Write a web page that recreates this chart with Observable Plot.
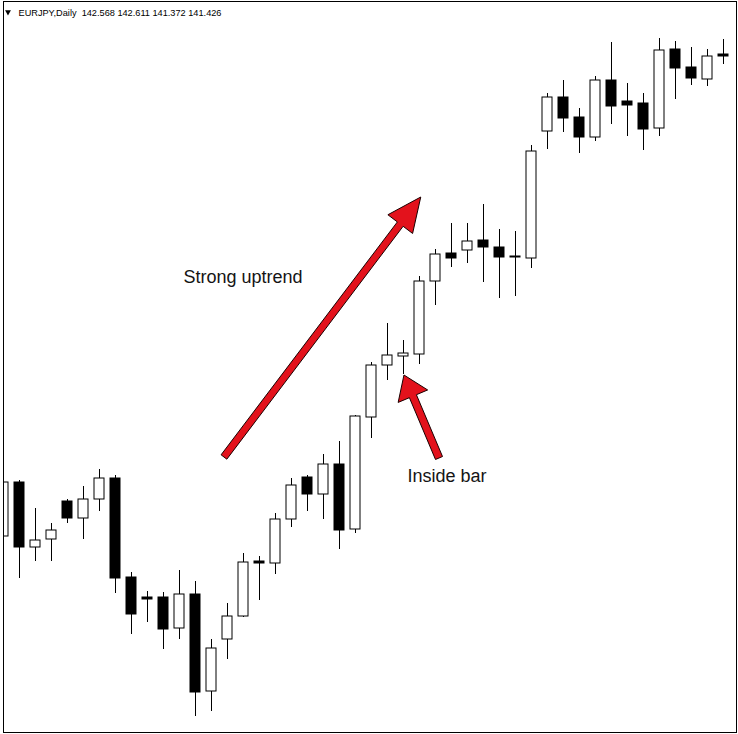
<!DOCTYPE html>
<html>
<head>
<meta charset="utf-8">
<script src="https://cdn.jsdelivr.net/npm/d3@7"></script>
<script src="https://cdn.jsdelivr.net/npm/@observablehq/plot@0.6"></script>
<style>
  html, body { margin: 0; padding: 0; background: #fff; }
  #chart { width: 738px; height: 734px; }
  #chart svg { display: block; }
</style>
</head>
<body>
<div id="chart"></div>
<script>
// ---- data ----
const symbol = "EURJPY,Daily";
const quote = ["142.568", "142.611", "141.372", "141.426"];

const opens  = [138.04,138.58,137.93,138.01,138.39,138.22,138.41,138.62,137.63,137.43,
                137.43,137.12,137.46,136.49,137.01,137.24,137.79,137.77,138.21,138.63,
                138.46,138.76,138.11,139.23,139.75,139.84,139.86,140.59,140.87,140.90,
                141.00,140.93,140.84,140.82,142.09,142.43,142.23,142.03,142.60,142.39,
                142.37,142.12,142.91,142.73,142.61,142.86];
const highs  = [138.74,138.60,138.32,138.17,138.41,138.54,138.71,138.65,137.68,137.49,
                137.48,137.70,137.59,137.01,137.37,137.87,137.84,138.27,138.62,138.65,
                138.86,138.99,139.25,139.78,140.17,140.00,140.64,140.91,141.17,141.17,
                141.36,141.11,141.09,141.95,142.47,142.60,142.32,142.64,142.98,142.57,
                142.47,143.02,142.99,142.93,142.91,143.01];
const lows   = [137.97,137.62,137.79,137.79,138.17,138.01,138.29,137.47,137.06,137.18,
                136.91,137.01,136.24,136.29,136.81,137.23,137.40,137.66,138.13,138.29,
                138.21,137.91,138.07,139.02,139.60,139.66,139.76,140.35,140.73,140.77,
                140.58,140.42,140.44,140.72,141.91,142.08,141.87,141.99,142.16,142.04,
                141.90,142.04,142.41,142.55,142.54,142.76];
const closes = [138.58,137.93,138.00,138.10,138.22,138.41,138.62,137.62,137.26,137.41,
                137.11,137.46,136.48,136.92,137.24,137.78,137.77,138.21,138.55,138.46,
                138.76,138.10,139.24,139.75,139.85,139.87,140.59,140.86,140.82,140.99,
                140.93,140.83,140.83,141.89,142.43,142.22,142.03,142.60,142.34,142.35,
                142.11,142.90,142.72,142.62,142.84,142.84];

// annotation anchors (bar index, price)
const labelTexts  = ["Strong uptrend", "Inside bar"];
const labelBars   = [11.25, 25.25];
const labelPrices = [140.573, 138.583];

const arrowFromBars   = [13.81, 27.25];
const arrowFromPrices = [138.83, 138.82];
const arrowToBars     = [26.11, 25.06];
const arrowToPrices   = [141.43, 139.65];

// ---- build tables ----
const candles = opens.map((o, i) => ({i, open: o, high: highs[i], low: lows[i], close: closes[i]}));
const labels = labelTexts.map((t, k) => ({text: t, i: labelBars[k], p: labelPrices[k]}));
const arrows = arrowFromBars.map((b, k) => ({i1: b, p1: arrowFromPrices[k], i2: arrowToBars[k], p2: arrowToPrices[k]}));

// arrow shape styles (pixels)
const arrowStyle = [
  {headLength: 34, headHalf: 15.5, shaftHalf: 3.6},
  {headLength: 23, headHalf: 16, shaftHalf: 3.8}
];

function arrowsMark(index, scales) {
  const g = d3.create("svg:g");
  arrows.forEach((a, k) => {
    const st = arrowStyle[k];
    const x1 = scales.x(a.i1), y1 = scales.y(a.p1);
    const x2 = scales.x(a.i2), y2 = scales.y(a.p2);
    const dx = x2 - x1, dy = y2 - y1, len = Math.hypot(dx, dy);
    const ux = dx / len, uy = dy / len, nx = -uy, ny = ux;
    const bx = x2 - ux * st.headLength, by = y2 - uy * st.headLength;
    const s = st.shaftHalf, h = st.headHalf;
    const pts = [
      [x1 + nx * s, y1 + ny * s],
      [bx + nx * s, by + ny * s],
      [bx + nx * h, by + ny * h],
      [x2, y2],
      [bx - nx * h, by - ny * h],
      [bx - nx * s, by - ny * s],
      [x1 - nx * s, y1 - ny * s]
    ];
    g.append("path")
      .attr("d", "M" + pts.map(p => p.join(",")).join("L") + "Z")
      .attr("fill", "#e3121c")
      .attr("stroke", "#1a0000")
      .attr("stroke-width", 1)
      .attr("stroke-linejoin", "miter");
  });
  return g.node();
}

const chart = Plot.plot({
  width: 738,
  height: 734,
  marginLeft: 3,
  marginRight: 2,
  marginTop: 1,
  marginBottom: 2,
  x: {domain: [0, 45.8125], axis: null},
  y: {domain: [136.08, 143.39], axis: null},
  style: {background: "#fff", fontFamily: "'Liberation Sans', Arial, sans-serif"},
  marks: [
    Plot.ruleX(candles, {x: "i", y1: "low", y2: "high", stroke: "#000", strokeWidth: 1, clip: true}),
    Plot.rect(candles, {
      x1: d => d.i - 0.3125,
      x2: d => d.i + 0.3125,
      y1: "open",
      y2: "close",
      fill: d => d.close >= d.open ? "#fff" : "#000",
      stroke: "#000",
      strokeWidth: 1,
      clip: true
    }),
    Plot.frame({stroke: "#000", strokeWidth: 1}),
    Plot.dot([0], {frameAnchor: "top-left", dx: 4.5, dy: 10.5, symbol: "triangle2", rotate: 180, r: 2.8, fill: "#000", stroke: null}),
    Plot.text([`${symbol}  ${quote.join(" ")}`], {
      frameAnchor: "top-left", dx: 15, dy: 14,
      textAnchor: "start", lineAnchor: "bottom",
      fontSize: 9.2, fill: "#000",
      fontFamily: "'Liberation Sans', Arial, sans-serif"
    }),
    arrowsMark,
    Plot.text(labels, {
      x: "i", y: "p", text: "text",
      textAnchor: "start", lineAnchor: "bottom",
      fontSize: 18, fill: "#141414",
      fontFamily: "'Liberation Sans', Arial, sans-serif"
    })
  ]
});

document.getElementById("chart").appendChild(chart);
</script>
</body>
</html>
